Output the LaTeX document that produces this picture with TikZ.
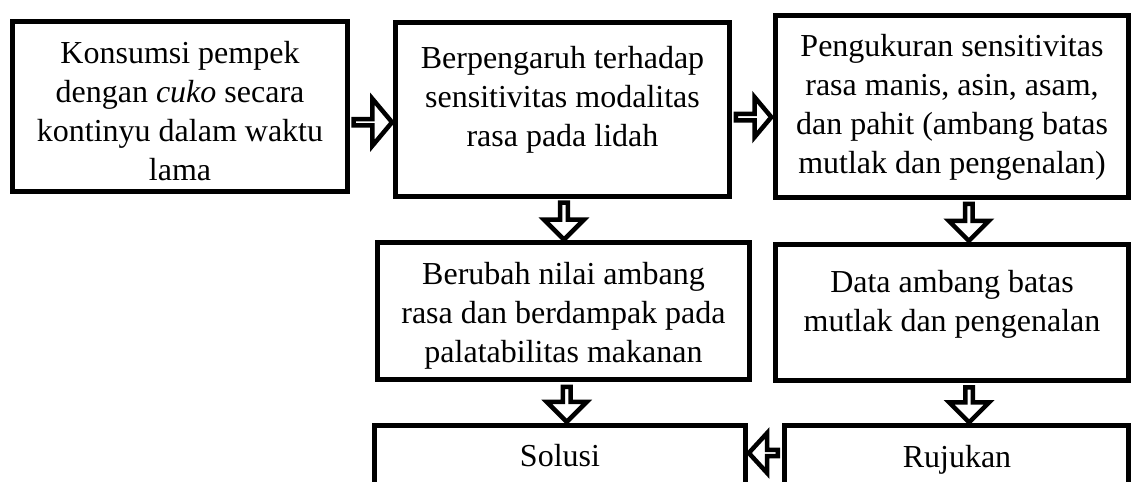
\documentclass[tikz,border=0pt]{standalone}
\usepackage{fontspec}
\setmainfont{Liberation Serif}
\usetikzlibrary{calc,shapes.arrows}
\tikzset{
  kotak/.style={draw, line width=5pt, inner sep=0pt},
  isi/.style={font=\fontsize{32}{39}\selectfont, align=center, inner sep=0pt},
  panah/.style={single arrow, draw, fill=white, line width=4.5pt, inner sep=0pt,
    minimum width=40pt, single arrow head extend=9.5pt, single arrow tip angle=90},
}

\begin{document}
\begin{tikzpicture}[x=1pt,y=-1pt]
      \useasboundingbox (0,0) rectangle (1133,482);
      \clip (0,0) rectangle (1133,482);

      \node[kotak, minimum width=335pt, minimum height=169.5pt] (konsumsi) at (180,106.25) {};
      \node[kotak, minimum width=334pt, minimum height=174.5pt] (pengaruh) at (562.5,109.25) {};
      \node[kotak, minimum width=353.5pt, minimum height=182pt] (pengukuran) at (951.75,106) {};
      \node[kotak, minimum width=372pt, minimum height=137.5pt] (berubah) at (563.5,310.75) {};
      \node[kotak, minimum width=353pt, minimum height=136.5pt] (data) at (952,312.25) {};
      \node[kotak, minimum width=371pt, minimum height=134.5pt] (solusi) at (560,492.75) {};
      \node[kotak, minimum width=344.5pt, minimum height=134.5pt] (rujukan) at (956.25,492.75) {};

      \node[isi] (konsumsi-t) at (180,111.5) {Konsumsi pempek\\ dengan \textit{cuko} secara\\ kontinyu dalam waktu\\ lama};
      \node[isi] (pengaruh-t) at (562.5,100) {Berpengaruh terhadap\\ sensitivitas modalitas\\ rasa pada lidah};
      \node[isi] (pengukuran-t) at (952,107.7) {Pengukuran sensitivitas\\ rasa manis, asin, asam,\\ dan pahit (ambang batas\\ mutlak dan pengenalan)};
      \node[isi] (berubah-t) at (563.5,316) {Berubah nilai ambang\\ rasa dan berdampak pada\\ palatabilitas makanan};
      \node[isi] (data-t) at (952,304.5) {Data ambang batas\\ mutlak dan pengenalan};
      \node[isi] (solusi-t) at (560,456) {Solusi};
      \node[isi] (rujukan-t) at (957,460) {Rujukan};

      \node[panah, minimum height=38.5pt, minimum width=47pt, single arrow head extend=14.5pt, single arrow tip angle=100]
        (p1) at ($(konsumsi.east)!.5!(pengaruh.west)+(0,14.5)$) {};
      \node[panah, minimum height=35.5pt, single arrow head extend=12pt, single arrow tip angle=100]
        (p2) at ($(pengaruh.east)!.5!(pengukuran.west)+(0,9.5)$) {};
      \node[panah, minimum height=37pt, rotate=-90] (p3) at ($(pengaruh.south)!.5!(berubah.north)+(1,0)$) {};
      \node[panah, minimum height=37pt, rotate=-90] (p4) at ($(pengukuran.south)!.5!(data.north)+(17,0)$) {};
      \node[panah, minimum height=35pt, rotate=-90] (p5) at ($(berubah.south)!.5!(solusi.north)+(5,0)$) {};
      \node[panah, minimum height=35pt, rotate=-90] (p6) at ($(data.south)!.5!(rujukan.north)+(15,0)$) {};
      \node[panah, minimum height=29pt, minimum width=40pt, single arrow head extend=12pt, single arrow tip angle=95, rotate=180]
        (p7) at ($(rujukan.north west)!.5!(solusi.north east)+(0,30)$) {};
    \end{tikzpicture}
\end{document}
